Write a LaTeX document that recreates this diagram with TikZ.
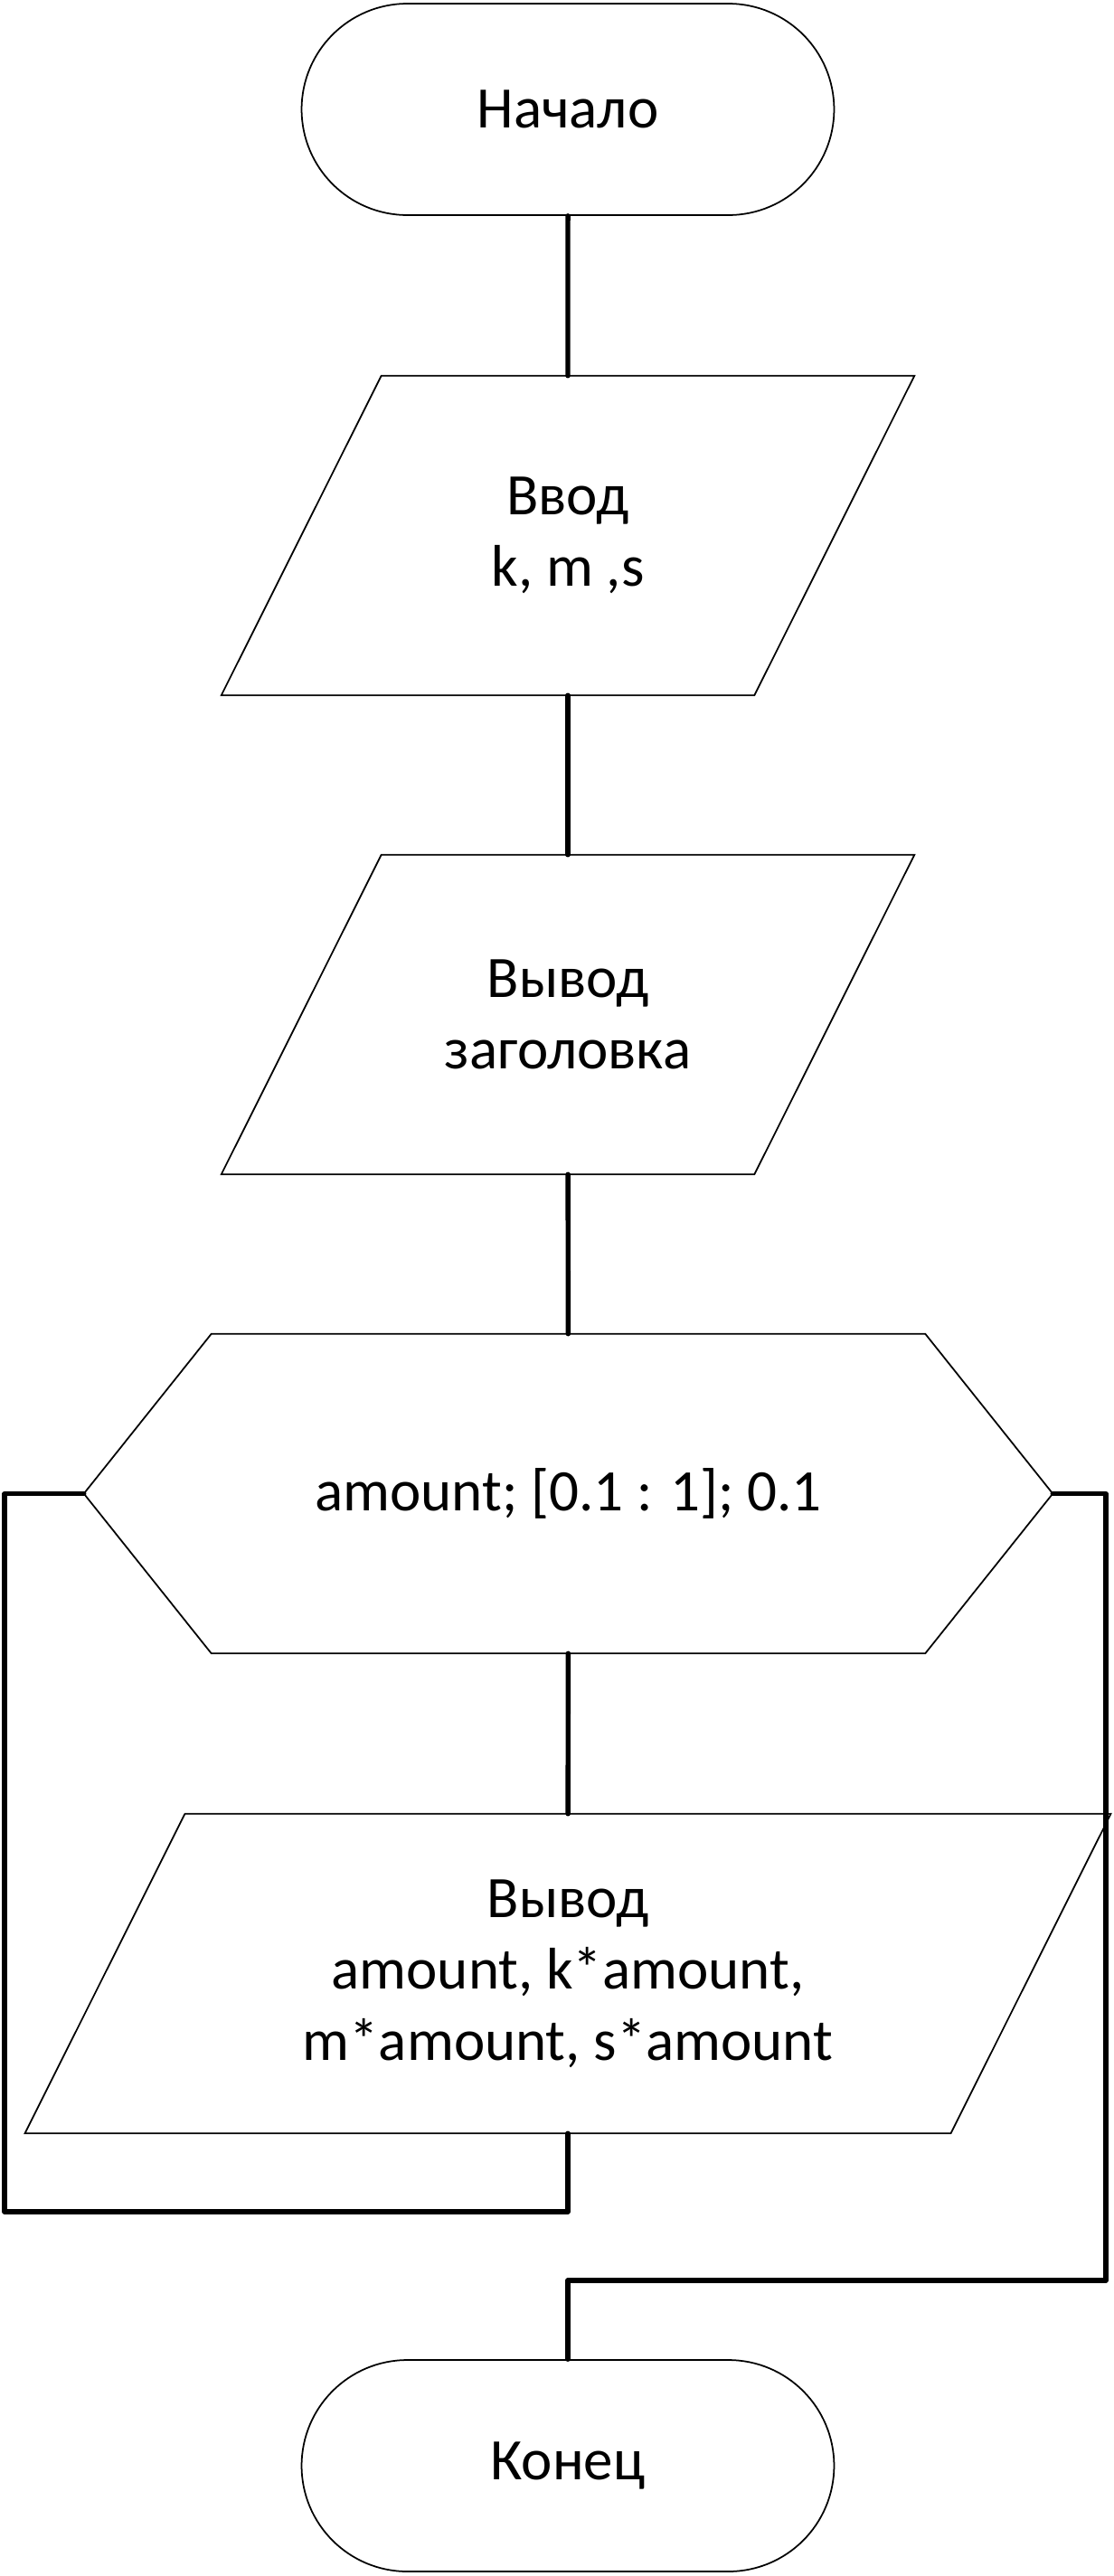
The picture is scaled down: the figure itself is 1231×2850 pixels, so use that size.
\documentclass[tikz,border=0pt]{standalone}
\usepackage{fontspec}
\setmainfont{Carlito}
\usetikzlibrary{shapes.misc}
\begin{document}
\begin{tikzpicture}[x=0.02cm,y=-0.02cm,
	outline/.style={line width=1pt},
	flow/.style={line width=3.1pt,line cap=round,line join=round},
	term/.style={rounded rectangle,draw,outline,minimum width=11.78cm,minimum height=4.68cm,inner sep=0pt},
	blk/.style={minimum width=11.78cm,minimum height=7.06cm,inner sep=0pt,align=center},
	font=\fontsize{37}{45}\selectfont]
	\useasboundingbox (0,0) rectangle (1231,2850);
	% blocks
	\node[term] (start) at (628,121) {Начало};
	\node[blk] (in) at (628,592.5) {Ввод\\k, m ,s};
	\node[blk] (head) at (628,1122.5) {Вывод\\заголовка};
	\node[blk,minimum width=21.42cm] (loop) at (628.5,1652.5) {amount; [0.1 : 1]; 0.1};
	\node[blk,minimum width=20.47cm] (out) at (628,2183.5) {Вывод\\amount, k*amount,\\m*amount, s*amount};
	\node[term] (stop) at (628,2728) {Конец};
	% parallelograms and hexagon
	\foreach \n in {in,head,out}
		\draw[outline] ([shift={(88.5,0)}]\n.north west) -- ([shift={(88.5,0)}]\n.north east)
			-- ([shift={(-88.5,0)}]\n.south east) -- ([shift={(-88.5,0)}]\n.south west) -- cycle;
	\draw[outline] (loop.west) -- ([shift={(141,0)}]loop.north west) -- ([shift={(-141,0)}]loop.north east)
		-- (loop.east) -- ([shift={(-141,0)}]loop.south east) -- ([shift={(141,0)}]loop.south west) -- cycle;
	% connectors
	\coordinate (lft) at (5,2447);
	\coordinate (rgt) at (1223,2523);
	\draw[flow] (start) -- (in);
	\draw[flow] (in) -- (head);
	\draw[flow] (head) -- (loop);
	\draw[flow] (loop) -- (out);
	\draw[flow] (out.south) |- (lft) |- (loop.west);
	\draw[flow] (loop.east) -| (rgt) -| (stop.north);
\end{tikzpicture}
\end{document}
